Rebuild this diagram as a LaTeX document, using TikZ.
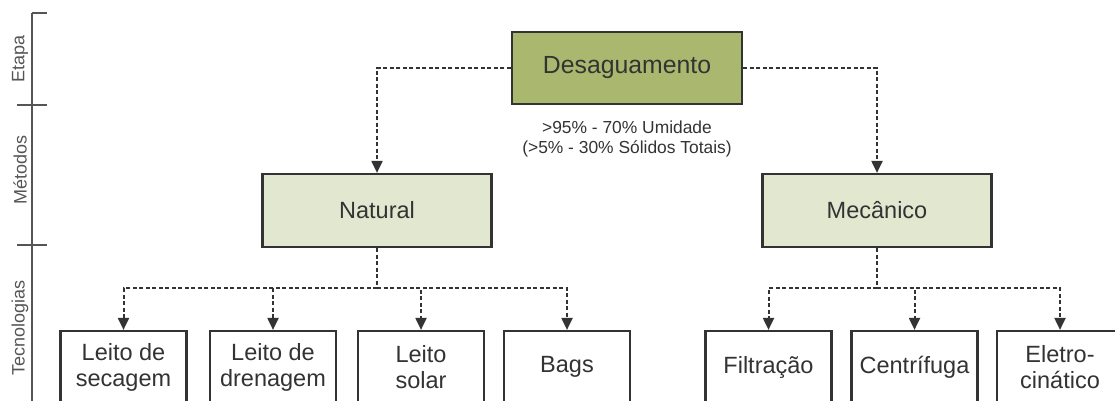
\documentclass[tikz,border=0pt]{standalone}
\usepackage{fontspec}
\setmainfont{Liberation Sans}
\usetikzlibrary{arrows.meta}
\definecolor{ink}{HTML}{333333}
\definecolor{axisgray}{HTML}{555555}
\definecolor{desagfill}{HTML}{AAB86F}
\definecolor{palegreen}{HTML}{E2E8D0}
\newcommand{\fhuge}{\fontsize{24.8}{27}\selectfont}
\newcommand{\fbig}{\fontsize{23.5}{26}\selectfont}
\newcommand{\fmid}{\fontsize{17.4}{20}\selectfont}
\newcommand{\fsmall}{\fontsize{18}{20}\selectfont}

\tikzset{
  etapa/.style    ={draw=ink, line width=2.2pt, fill=desagfill, text=ink,
                    minimum width=230pt, minimum height=72pt, font=\fhuge},
  metodo/.style   ={draw=ink, line width=2.2pt, fill=palegreen, text=ink,
                    minimum width=229pt, minimum height=73pt, font=\fbig},
  tecno/.style    ={draw=ink, line width=2.2pt, fill=white, text=ink,
                    minimum width=126pt, minimum height=72pt, font=\fbig,
                    align=center},
  liga/.style     ={draw=ink, line width=2pt, dash pattern=on 4pt off 2.5pt,
                    -{Triangle[length=12pt,width=11pt]}},
  eixo/.style     ={draw=axisgray, line width=1.4pt},
  rotulo/.style   ={text=axisgray, rotate=90, font=\fsmall},
}
\begin{document}
\begin{tikzpicture}[x=1pt,y=-1pt]
  \clip (0,0) rectangle (1115,401);
  \useasboundingbox (0,0) rectangle (1115,401);
 %
  \draw[eixo] (32, 13) -- (32,401);
  \draw[eixo] (32, 13) -- (47, 13);
  \draw[eixo] (17,105) -- (47,105);
  \draw[eixo] (17,245) -- (47,245);
  \node[rotulo] (lbletapa)  at (20, 59) {Etapa};
  \node[rotulo] (lblmetodo) at (20,170) {Métodos};
  \node[rotulo] (lbltecno)  at (20,328) {Tecnologias};
 %
  \node[etapa]  (desag) at (627, 68) {Desaguamento};
  \node[text=ink, font=\fmid, align=center] (umid) at (627,139)
        {>95\% - 70\% Umidade\\(>5\% - 30\% Sólidos Totais)};
 %
  \node[metodo] (nat)   at (377,210.5) {Natural};
  \node[metodo] (mec)   at (877,210.5) {Mecânico};
 %
  \node[tecno]  (secag) at (123.5,367) {Leito de\\secagem};
  \node[tecno]  (dren)  at (273  ,367) {Leito de\\drenagem};
  \node[tecno]  (solar) at (421  ,367) {Leito\\solar};
  \node[tecno]  (bags)  at (567  ,367) {Bags};
  \node[tecno]  (filt)  at (768.5,367) {Filtração};
  \node[tecno]  (centr) at (914.5,367) {Centrífuga};
  \node[tecno]  (eletr) at (1060 ,367) {Eletro-\\cinático};
 %
  \draw[liga] (desag.west) -| (nat.north);
  \draw[liga] (desag.east) -| (mec.north);
 %
  \coordinate (natbus) at (377,288);
  \coordinate (mecbus) at (877,288);
  \draw[liga,-] (nat.south) -- (natbus);
  \draw[liga,-] (mec.south) -- (mecbus);
  \foreach \b in {secag,dren,solar,bags}
    \draw[liga] (natbus) -| (\b.north);
  \foreach \b in {filt,centr,eletr}
    \draw[liga] (mecbus) -| (\b.north);
\end{tikzpicture}
\end{document}
